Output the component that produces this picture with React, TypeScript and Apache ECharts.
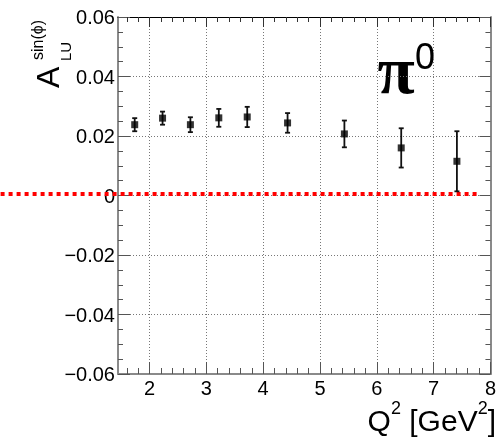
import React, { useEffect, useRef } from "react";
import * as echarts from "echarts";

// ---- data ----
const q2Values = [1.74, 2.23, 2.72, 3.22, 3.72, 4.43, 5.43, 6.43, 7.41];
const asymValues = [0.0238, 0.026, 0.0238, 0.0261, 0.0264, 0.0244, 0.0207, 0.016, 0.0115];
const asymErrors = [0.0022, 0.0022, 0.0025, 0.003, 0.0034, 0.0033, 0.0045, 0.0066, 0.0101];

const xMin = 1.446;
const xMax = 8;
const xMajorTicks = [2, 3, 4, 5, 6, 7, 8];
const xMinorStep = 0.2;
const yMin = -0.06;
const yMax = 0.06;
const yInterval = 0.02;

// red dotted reference line near zero
const refLineY = 0.0005;
const refLineFrom = -0.62;
const refLineTo = 7.82;

const FONT = "'Liberation Sans', Arial, Helvetica, sans-serif";

function buildMinorTicks(): number[] {
  const out: number[] = [];
  const start = Math.ceil(xMin / xMinorStep) * xMinorStep;
  for (let k = 0; ; k++) {
    const v = Math.round((start + k * xMinorStep) * 1000) / 1000;
    if (v >= xMax - 1e-9) break;
    if (xMajorTicks.some((m) => Math.abs(m - v) < 1e-6)) continue;
    if (v <= xMin) continue;
    out.push(v);
  }
  return out;
}

export default function App() {
  const ref = useRef<HTMLDivElement>(null);

  useEffect(() => {
    if (!ref.current) return;
    const chart = echarts.init(ref.current, null, { renderer: "svg" });
    const xMinor = buildMinorTicks();

    const points = q2Values.map((x, i) => [x, asymValues[i]]);
    const bars = q2Values.map((x, i) => [x, asymValues[i] - asymErrors[i], asymValues[i] + asymErrors[i]]);

    const gridLine = { show: true, lineStyle: { color: "#777", width: 1, type: [1, 2] as any } };
    const axisGray = { show: true, onZero: false, lineStyle: { color: "#8a8a8a", width: 2 } };
    const noLine = { show: false, onZero: false };

    const baseX = { type: "value" as const, min: xMin, max: xMax, gridIndex: 0 };
    const baseY = { type: "value" as const, min: yMin, max: yMax, interval: yInterval, gridIndex: 0 };

    chart.setOption({
      animation: false,
      grid: { left: 118, right: 6, top: 17, bottom: 63, containLabel: false },
      xAxis: [
        {
          ...baseX,
          position: "bottom",
          minInterval: 1,
          maxInterval: 1,
          axisLine: axisGray,
          axisTick: { show: true, inside: true, length: 12, customValues: xMajorTicks, lineStyle: { color: "#555", width: 1 } },
          axisLabel: {
            show: true,
            customValues: xMajorTicks,
            margin: 4,
            color: "#000",
            fontSize: 20,
            fontFamily: FONT,
            formatter: (v: number) => String(Math.round(v)),
          },
          splitLine: gridLine,
        },
        {
          ...baseX,
          position: "bottom",
          axisLine: noLine,
          axisTick: { show: true, inside: true, length: 6, customValues: xMinor, lineStyle: { color: "#555", width: 1 } },
          axisLabel: { show: false },
          splitLine: { show: false },
        },
        {
          ...baseX,
          position: "top",
          axisLine: { show: true, onZero: false, lineStyle: { color: "#000", width: 1 } },
          axisTick: { show: true, inside: true, length: 10, customValues: xMajorTicks, lineStyle: { color: "#333", width: 1 } },
          axisLabel: { show: false },
          splitLine: { show: false },
        },
        {
          ...baseX,
          position: "top",
          axisLine: noLine,
          axisTick: { show: true, inside: true, length: 5, customValues: xMinor, lineStyle: { color: "#333", width: 1 } },
          axisLabel: { show: false },
          splitLine: { show: false },
        },
      ],
      yAxis: [
        {
          ...baseY,
          position: "left",
          axisLine: axisGray,
          axisTick: { show: true, inside: true, length: 12, lineStyle: { color: "#555", width: 1 } },
          minorTick: { show: true, splitNumber: 4, length: 5, lineStyle: { color: "#555", width: 1 } },
          axisLabel: {
            show: true,
            margin: 3,
            color: "#000",
            fontSize: 20,
            fontFamily: FONT,
            formatter: (v: number) => {
              const r = Math.round(v * 1000) / 1000;
              if (r === 0) return "0";
              return (r < 0 ? "\u2212" : "") + Math.abs(r).toFixed(2);
            },
          },
          splitLine: gridLine,
        },
        {
          ...baseY,
          position: "right",
          axisLine: axisGray,
          axisTick: { show: true, inside: true, length: 11, lineStyle: { color: "#555", width: 1 } },
          minorTick: { show: true, splitNumber: 4, length: 5, lineStyle: { color: "#555", width: 1 } },
          axisLabel: { show: false },
          splitLine: { show: false },
        },
      ],
      series: [
        {
          type: "custom",
          xAxisIndex: 0,
          yAxisIndex: 0,
          data: [[refLineFrom, refLineTo, refLineY]],
          clip: false,
          silent: true,
          z: 1,
          renderItem: (params: any, api: any) => {
            const y = api.value(2);
            const a = api.coord([api.value(0), y]);
            const b = api.coord([api.value(1), y]);
            return {
              type: "line",
              shape: { x1: a[0], y1: a[1], x2: b[0], y2: b[1] },
              style: { stroke: "#ff0000", lineWidth: 4, lineDash: [4, 4] },
            };
          },
        },
        {
          type: "custom",
          xAxisIndex: 0,
          yAxisIndex: 0,
          data: bars,
          encode: { x: 0, y: [1, 2] },
          z: 3,
          renderItem: (params: any, api: any) => {
            const x = api.value(0);
            const lo = api.coord([x, api.value(1)]);
            const hi = api.coord([x, api.value(2)]);
            const cap = 2.5;
            const style = { stroke: "#111", lineWidth: 1.8 };
            return {
              type: "group",
              children: [
                { type: "line", shape: { x1: lo[0], y1: lo[1], x2: hi[0], y2: hi[1] }, style },
                { type: "line", shape: { x1: lo[0] - cap, y1: lo[1], x2: lo[0] + cap, y2: lo[1] }, style },
                { type: "line", shape: { x1: hi[0] - cap, y1: hi[1], x2: hi[0] + cap, y2: hi[1] }, style },
              ],
            };
          },
        },
        {
          type: "scatter",
          xAxisIndex: 0,
          yAxisIndex: 0,
          data: points,
          symbol: "rect",
          symbolSize: 7,
          z: 4,
          itemStyle: { color: "#000" },
        },
      ],
      graphic: [
        // pi^0 label
        {
          type: "text",
          x: 396,
          y: 70,
          style: {
            text: "\u03c0",
            fontSize: 68,
            fontWeight: "bold",
            fontFamily: "'Liberation Serif', 'DejaVu Serif', serif",
            fill: "#000",
            align: "center",
            verticalAlign: "middle",
          },
        },
        {
          type: "text",
          x: 425,
          y: 56,
          style: { text: "0", fontSize: 36, fontFamily: FONT, fill: "#000", align: "center", verticalAlign: "middle" },
        },
        // y axis title: A_LU^{sin(phi)}
        {
          type: "text",
          x: 48,
          y: 88,
          rotation: Math.PI / 2,
          style: { text: "A", fontSize: 32, fontFamily: FONT, fill: "#000", align: "left", verticalAlign: "middle" },
        },
        {
          type: "text",
          x: 65,
          y: 61,
          rotation: Math.PI / 2,
          style: { text: "LU", fontSize: 15, fontFamily: FONT, fill: "#000", align: "left", verticalAlign: "middle" },
        },
        {
          type: "text",
          x: 37,
          y: 60,
          rotation: Math.PI / 2,
          style: { text: "sin(\u03d5)", fontSize: 16, fontFamily: FONT, fill: "#000", align: "left", verticalAlign: "middle" },
        },
        // x axis title: Q^2 [GeV^2]
        {
          type: "text",
          x: 496,
          y: 441,
          style: {
            text: "{m|Q}{s|2}{m| [GeV}{s|2}{m|]}",
            align: "right",
            verticalAlign: "bottom",
            fill: "#000",
            rich: {
              m: { fontSize: 30, fontFamily: FONT, lineHeight: 42, fill: "#000" },
              s: { fontSize: 18, fontFamily: FONT, lineHeight: 24, verticalAlign: "top", fill: "#000" },
            },
          },
        },
      ],
    });

    return () => chart.dispose();
  }, []);

  return <div ref={ref} style={{ position: "fixed", left: 0, top: 0, width: 499, height: 437 }} />;
}
